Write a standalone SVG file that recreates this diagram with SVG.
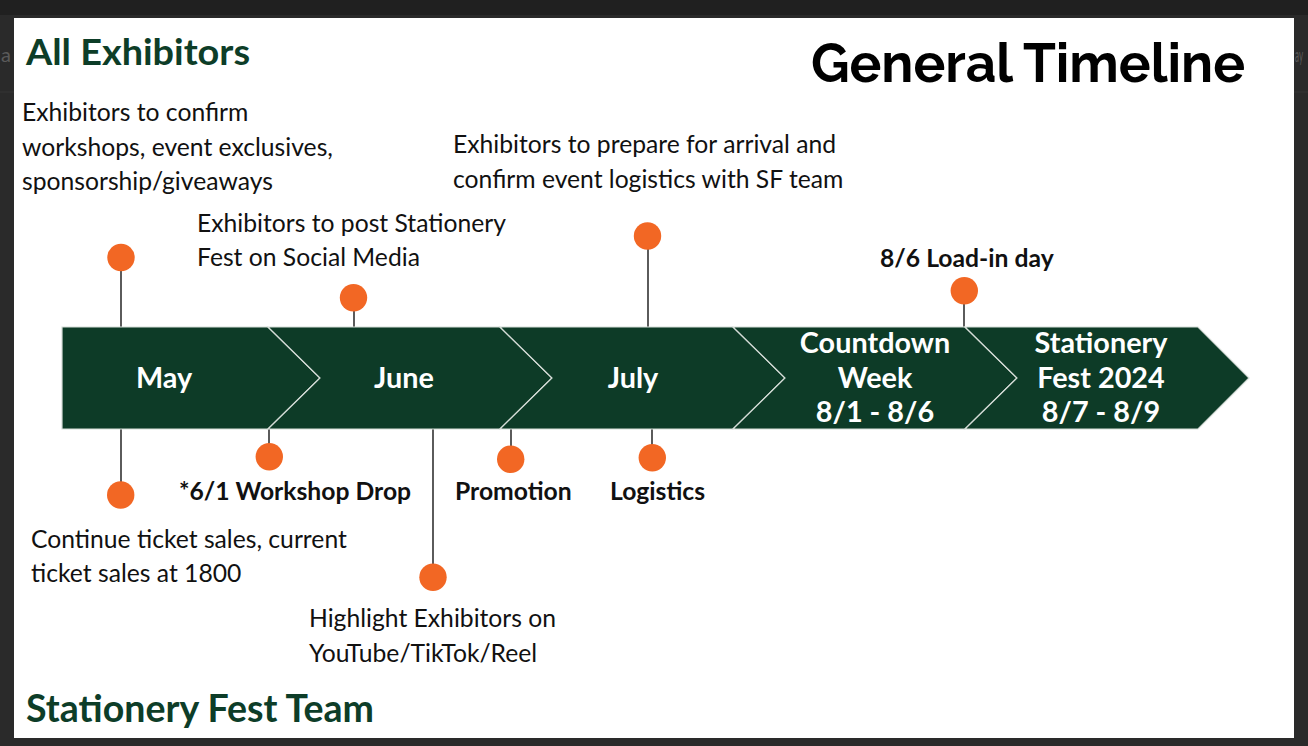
<svg xmlns="http://www.w3.org/2000/svg" width="1308" height="746" viewBox="0 0 1308 746">
  <style>
    .hd { font-family: Lato, "Liberation Sans", sans-serif; font-weight: 700; fill: #0d3d28; }
    .body { font-family: Lato, "Liberation Sans", sans-serif; font-size: 24.7px; fill: #111; }
    .bold { font-family: Lato, "Liberation Sans", sans-serif; font-size: 24.7px; font-weight: 700; fill: #111; }
    .band { font-family: Lato, "Liberation Sans", sans-serif; font-size: 28.8px; font-weight: 700; fill: #fff; text-anchor: middle; }
    .seg { fill: #0d3b27; stroke: #d6ddd8; stroke-width: 1.2; stroke-linejoin: miter; }
    .dot { fill: #f26724; }
    .stem { stroke: #333; stroke-width: 1.6; }
    .ghost { font-family: Lato, "Liberation Sans", sans-serif; font-size: 20px; fill: #5a5a5a; }
  </style>

  <!-- surrounding window -->
  <rect x="0" y="0" width="1308" height="746" fill="#2a2a2a"/>
  <rect x="0" y="0" width="1308" height="15" fill="#202020"/>
  <line x1="0" y1="92" x2="1308" y2="92" stroke="#353535" stroke-width="1"/>
  <text class="ghost" x="1" y="62">a</text>
  <text class="ghost" x="1295" y="62" textLength="8" lengthAdjust="spacingAndGlyphs">ay</text>

  <!-- slide -->
  <rect x="14" y="18" width="1280" height="720" fill="#ffffff"/>

  <g id="headings">
    <text class="hd" x="26" y="65" font-size="37" textLength="224" lengthAdjust="spacingAndGlyphs">All Exhibitors</text>
    <text class="hd" x="26" y="722" font-size="38" textLength="348" lengthAdjust="spacingAndGlyphs">Stationery Fest Team</text>
    <text x="811" y="82" font-family="Raleway, Lato, 'Liberation Sans', sans-serif" font-weight="700" font-size="54" fill="#000" textLength="434" lengthAdjust="spacingAndGlyphs">General Timeline</text>
  </g>

  <!-- connectors (stems) -->
  <g id="connectors">
    <line class="stem" x1="121" y1="258" x2="121" y2="327"/>
    <line class="stem" x1="354" y1="298" x2="354" y2="327"/>
    <line class="stem" x1="648" y1="237" x2="648" y2="327"/>
    <line class="stem" x1="964" y1="291" x2="964" y2="327"/>
    <line class="stem" x1="121" y1="429" x2="121" y2="495"/>
    <line class="stem" x1="269" y1="429" x2="269" y2="457"/>
    <line class="stem" x1="433" y1="429" x2="433" y2="577"/>
    <line class="stem" x1="511" y1="429" x2="511" y2="460"/>
    <line class="stem" x1="652" y1="429" x2="652" y2="458"/>
  </g>

  <!-- timeline band -->
  <g id="band">
    <g id="seg-may">
      <path class="seg" d="M62,327 L268,327 L320,378 L268,429 L62,429 Z"/>
      <text class="band" x="164" y="388">May</text>
    </g>
    <g id="seg-june">
      <path class="seg" d="M268,327 L500,327 L552,378 L500,429 L268,429 L320,378 Z"/>
      <text class="band" x="404" y="388">June</text>
    </g>
    <g id="seg-july">
      <path class="seg" d="M500,327 L733,327 L785,378 L733,429 L500,429 L552,378 Z"/>
      <text class="band" x="633" y="388">July</text>
    </g>
    <g id="seg-countdown">
      <path class="seg" d="M733,327 L965,327 L1017,378 L965,429 L733,429 L785,378 Z"/>
      <text class="band" x="875" y="353">Countdown</text>
      <text class="band" x="875" y="388">Week</text>
      <text class="band" x="875" y="422">8/1 - 8/6</text>
    </g>
    <g id="seg-fest">
      <path class="seg" d="M965,327 L1198,327 L1249,378 L1198,429 L965,429 L1017,378 Z"/>
      <text class="band" x="1101" y="353">Stationery</text>
      <text class="band" x="1101" y="388">Fest 2024</text>
      <text class="band" x="1101" y="422">8/7 - 8/9</text>
    </g>
  </g>

  <!-- top events -->
  <g id="ev-confirm">
    <circle class="dot" cx="121" cy="257.5" r="13.7"/>
    <text class="body" x="22" y="121">Exhibitors to confirm</text>
    <text class="body" x="22" y="155.5">workshops, event exclusives,</text>
    <text class="body" x="22" y="190">sponsorship/giveaways</text>
  </g>
  <g id="ev-post">
    <circle class="dot" cx="353.5" cy="297.7" r="13.7"/>
    <text class="body" x="197" y="231.5">Exhibitors to post Stationery</text>
    <text class="body" x="197" y="266">Fest on Social Media</text>
  </g>
  <g id="ev-prepare">
    <circle class="dot" cx="647.5" cy="236" r="13.7"/>
    <text class="body" x="453" y="153">Exhibitors to prepare for arrival and</text>
    <text class="body" x="453" y="187.5">confirm event logistics with SF team</text>
  </g>
  <g id="ev-loadin">
    <circle class="dot" cx="964.3" cy="290.7" r="13.7"/>
    <text class="bold" x="880" y="267">8/6 Load-in day</text>
  </g>

  <!-- bottom events -->
  <g id="ev-tickets">
    <circle class="dot" cx="120.7" cy="495" r="13.7"/>
    <text class="body" x="31" y="547.5">Continue ticket sales, current</text>
    <text class="body" x="31" y="581.5">ticket sales at 1800</text>
  </g>
  <g id="ev-workshop">
    <circle class="dot" cx="269.3" cy="456.7" r="13.7"/>
    <text class="bold" x="179" y="499.5">*6/1 Workshop Drop</text>
  </g>
  <g id="ev-highlight">
    <circle class="dot" cx="433" cy="577.3" r="13.7"/>
    <text class="body" x="309" y="627">Highlight Exhibitors on</text>
    <text class="body" x="309" y="662">YouTube/TikTok/Reel</text>
  </g>
  <g id="ev-promotion">
    <circle class="dot" cx="510.7" cy="459.3" r="13.7"/>
    <text class="bold" x="455" y="500">Promotion</text>
  </g>
  <g id="ev-logistics">
    <circle class="dot" cx="652.3" cy="457.7" r="13.7"/>
    <text class="bold" x="610" y="500">Logistics</text>
  </g>
</svg>
